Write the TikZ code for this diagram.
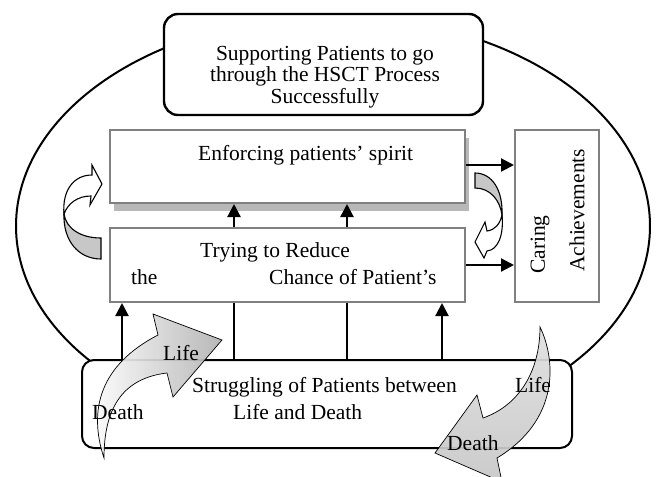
\documentclass[tikz,border=0pt]{standalone}
\usepackage{fontspec}
\setmainfont{Liberation Serif}
\usetikzlibrary{arrows.meta,shadows,calc}
\begin{document}
\begin{tikzpicture}[x=1pt,y=-1pt,
  txt/.style={inner sep=0pt,font=\fontsize{21.5}{21.5}\selectfont},
  graybox/.style={draw=black!50,line width=2pt,fill=white,minimum width=#1},
  conn/.style={line width=2.2pt,-{Triangle[length=13pt,width=13pt]}},
  plainconn/.style={line width=2.2pt},
  curlgray/.style={draw=black,line width=1.1pt,fill=black!22},
  curlwhite/.style={draw=black,line width=1.1pt,fill=white},
  bigarrow/.style={draw=black,line width=0.7pt,fill opacity=0.92}
]
\useasboundingbox (0,0) rectangle (657,477);
\clip (0,0) rectangle (657,477);
\fill[white] (0,0) rectangle (657,477);

% big outer ellipse
\draw[line width=2pt] (333,226) ellipse [x radius=317, y radius=210];

% top box
\node[draw,line width=2.4pt,rounded corners=14pt,fill=white,minimum width=319pt,minimum height=101pt] (top) at (323.5,64.5) {};
\node[txt,align=center] (toptext) at (325,77) {Supporting Patients to go\\through the HSCT Process\\Successfully};

% enforcing box
\node[graybox=355pt,minimum height=73pt,drop shadow={shadow xshift=4pt,shadow yshift=-8pt,fill=black!28,opacity=1}] (enf) at (287.5,166.5) {};
\node[txt,anchor=west] (enftext) at (198,155) {Enforcing patients’ spirit};

% trying box
\node[graybox=355pt,minimum height=74pt] (try) at (287.5,265) {};
\node[txt,anchor=west] (try1) at (200,252) {Trying to Reduce};
\node[txt,anchor=west] (try2) at (131,277) {the};
\node[txt,anchor=west] (try3) at (269,277) {Chance of Patient’s};

% caring box
\node[graybox=84pt,minimum height=172pt] (care) at (557,216) {};
\node[txt,rotate=90,anchor=west] (care1) at (540,274) {Caring};
\node[txt,rotate=90,anchor=west] (care2) at (577,272) {Achievements};

% bottom box
\node[draw,line width=2pt,rounded corners=12pt,fill=white,minimum width=490pt,minimum height=88pt] (bot) at (327,404) {};
\node[txt,anchor=west] (bot1) at (192,387) {Struggling of Patients between};
\node[txt,anchor=west] (bot2) at (233,412) {Life and Death};

% connector x positions
\coordinate (c1) at (122,0);
\coordinate (c2) at (234,0);
\coordinate (c3) at (347,0);
\coordinate (c4) at (442,0);
\coordinate (r1) at (0,165);
\coordinate (r2) at (0,265);

\draw[conn] (bot.north -| c1) -- (try.south -| c1);
\draw[plainconn] (bot.north -| c2) -- (try.south -| c2);
\draw[plainconn] (bot.north -| c3) -- (try.south -| c3);
\draw[conn] (bot.north -| c4) -- (try.south -| c4);
\draw[conn] (try.north -| c2) -- (enf.south -| c2);
\draw[conn] (try.north -| c3) -- (enf.south -| c3);
\draw[conn] (enf.east |- r1) -- (care.west |- r1);
\draw[conn] (try.east |- r2) -- (care.west |- r2);

% left curly arrow
\draw[curlgray] (101,238) .. controls (80,238) and (66,228) .. (64,214)
   .. controls (63,240) and (78,259) .. (101,259) -- cycle;
\draw[curlwhite] (64,214) .. controls (62,190) and (74,175) .. (92,175)
   -- (92,165) -- (102,184) -- (90,205) -- (91,196)
   .. controls (78,196) and (68,203) .. (64,214) -- cycle;

% right curly arrow
\draw[curlgray] (475,173) .. controls (492,173) and (503,190) .. (502,215)
   .. controls (500,200) and (490,188) .. (475,188) -- cycle;
\draw[curlwhite] (502,215) .. controls (504,235) and (498,250) .. (487,251)
   -- (484,258) -- (475,242) -- (485,222) -- (487,231)
   .. controls (495,230) and (500,224) .. (502,215) -- cycle;

% big left arrow (Death -> Life)
\draw[bigarrow,left color=white,right color=black!30]
  (104,458) .. controls (88,410) and (100,365) .. (158,335)
  -- (153,314) -- (222,340) -- (173,397) -- (167,373)
  .. controls (125,378) and (104,405) .. (104,458) -- cycle;

% big right arrow (Life -> Death)
\draw[bigarrow,top color=black!12,bottom color=black!22]
  (540,327) .. controls (556,360) and (560,420) .. (497,458)
  -- (502,482) -- (435,453) -- (477,395) -- (483,418)
  .. controls (520,405) and (540,370) .. (540,327) -- cycle;

% life / death labels
\node[txt,anchor=west] (lifeL) at (163,353) {Life};
\node[txt,anchor=west] (deathL) at (92,412) {Death};
\node[txt,anchor=west] (lifeR) at (515,385) {Life};
\node[txt,anchor=west] (deathR) at (447,443) {Death};
\end{tikzpicture}
\end{document}
